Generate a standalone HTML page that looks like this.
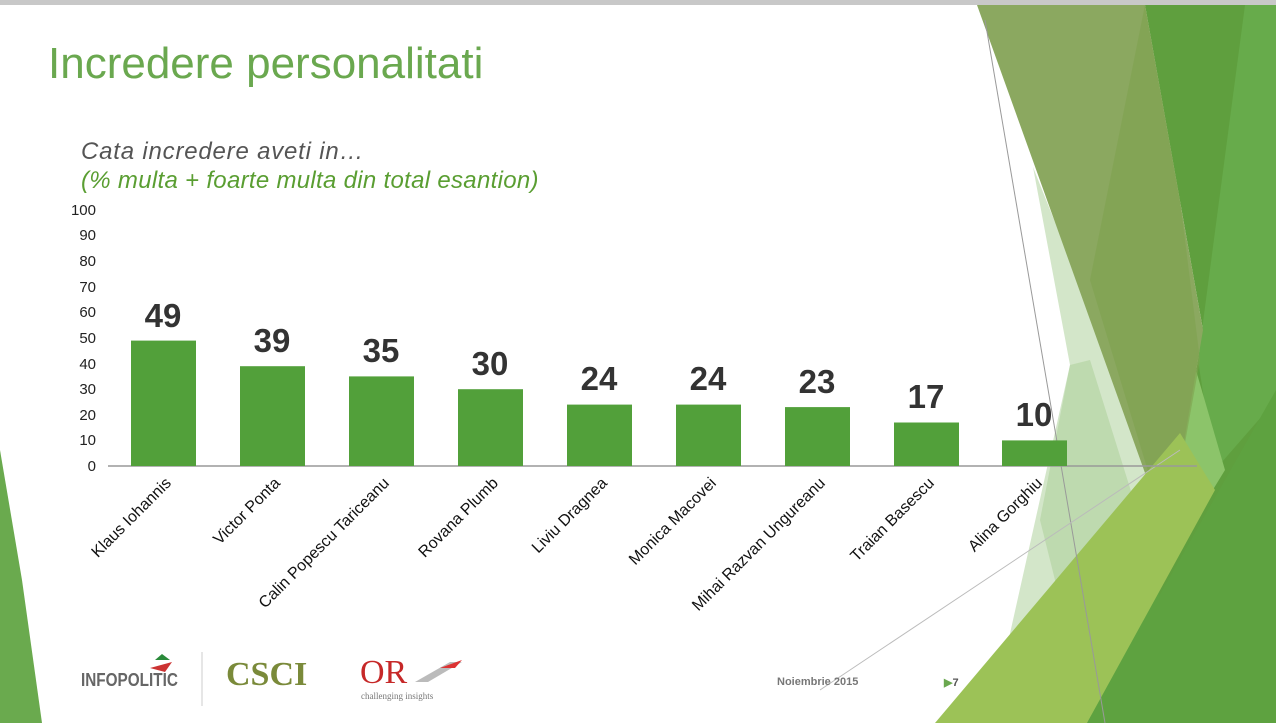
<!DOCTYPE html>
<html><head><meta charset="utf-8"><style>
body{margin:0;width:1276px;height:723px;overflow:hidden;background:#fff;font-family:"Liberation Sans",sans-serif;position:relative}
.t{position:absolute;white-space:nowrap}
</style></head><body>
<svg width="1276" height="723" style="position:absolute;left:0;top:0">
<rect x="0" y="0" width="1276" height="5" fill="#c8c8c8"/>
<polygon points="0,450 22,580 42,723 0,723" fill="#6aaa4e"/>
<polygon points="1080,723 1160,520 1210,440 1276,380 1276,723" fill="#5ea240"/>
<polygon points="1033,167 1070,365 990,723 1087,723 1168,537 1086,300" fill="#d3e6c9"/>
<polygon points="1070,365 1090,360 1140,520 1060,600 1040,520" fill="#b5d4a4" opacity="0.7"/>
<polygon points="1145,5 1276,5 1276,723 1140,723 1168,537 1203,330" fill="#5f9f3e"/>
<polygon points="1245,5 1276,5 1276,400 1215,470 1198,360" fill="#67ab4b"/>
<polygon points="1193,360 1225,470 1170,560" fill="#8cc46a"/>
<polygon points="977,5 1145,5 1203,330 1168,537" fill="#8ba860"/>
<polygon points="1090,280 1145,5 1180,200 1200,360 1168,537" fill="#7fa24e" opacity="0.6"/>
<polygon points="935,723 1180,433 1215,490 1087,723" fill="#9cc257"/>
<polygon points="1087,723 1276,390 1276,723" fill="#5ea240"/>
<line x1="985" y1="20" x2="1105" y2="723" stroke="#999" stroke-width="1"/>
<line x1="820" y1="690" x2="1180" y2="450" stroke="#bbb" stroke-width="1"/>
<line x1="108" y1="466" x2="1197" y2="466" stroke="#999" stroke-width="1.5"/>
<g fill="#52a03a">
<rect x="131" y="340.6" width="65" height="125.4"/>
<rect x="240" y="366.2" width="65" height="99.8"/>
<rect x="349" y="376.4" width="65" height="89.6"/>
<rect x="458" y="389.2" width="65" height="76.8"/>
<rect x="567" y="404.6" width="65" height="61.4"/>
<rect x="676" y="404.6" width="65" height="61.4"/>
<rect x="785" y="407.1" width="65" height="58.9"/>
<rect x="894" y="422.5" width="65" height="43.5"/>
<rect x="1002" y="440.4" width="65" height="25.6"/>
</g>
<g font-family="Liberation Sans" font-size="15" fill="#222" text-anchor="end">
<text x="96" y="471">0</text><text x="96" y="445">10</text><text x="96" y="420">20</text><text x="96" y="394">30</text><text x="96" y="369">40</text><text x="96" y="343">50</text><text x="96" y="317">60</text><text x="96" y="292">70</text><text x="96" y="266">80</text><text x="96" y="240">90</text><text x="96" y="215">100</text>
</g>
<g font-family="Liberation Sans" font-weight="bold" font-size="33" fill="#333" text-anchor="middle">
<text x="163" y="327">49</text><text x="272" y="352">39</text><text x="381" y="362">35</text><text x="490" y="375">30</text><text x="599" y="390">24</text><text x="708" y="390">24</text><text x="817" y="393">23</text><text x="926" y="408">17</text><text x="1034" y="426">10</text>
</g>
<g font-family="Liberation Sans" font-size="16" fill="#111" text-anchor="end">
<text transform="translate(172,484) rotate(-45)">Klaus Iohannis</text>
<text transform="translate(281,484) rotate(-45)">Victor Ponta</text>
<text transform="translate(390,484) rotate(-45)">Calin Popescu Tariceanu</text>
<text transform="translate(499,484) rotate(-45)">Rovana Plumb</text>
<text transform="translate(608,484) rotate(-45)">Liviu Dragnea</text>
<text transform="translate(717,484) rotate(-45)">Monica Macovei</text>
<text transform="translate(826,484) rotate(-45)">Mihai Razvan Ungureanu</text>
<text transform="translate(935,484) rotate(-45)">Traian Basescu</text>
<text transform="translate(1043,484) rotate(-45)">Alina Gorghiu</text>
</g>
<line x1="202" y1="652" x2="202" y2="706" stroke="#ccc"/>
<polygon points="150,668 172,662 165,672" fill="#c33"/>
<polygon points="155,660 162,654 170,660" fill="#2a8a3a"/>
<polygon points="415,682 450,662 462,662 428,682" fill="#bbb"/>
<polygon points="440,668 462,660 455,668" fill="#d33"/>
</svg>
<div class="t" style="left:48px;top:39px;font-size:44px;color:#6aa84f">Incredere personalitati</div>
<div class="t" style="left:81px;top:138px;font-size:24px;font-style:italic;color:#555;letter-spacing:0.8px">Cata incredere aveti in…</div>
<div class="t" style="left:81px;top:167px;font-size:24px;font-style:italic;color:#5a9e32;letter-spacing:0.3px">(% multa + foarte multa din total esantion)</div>
<div class="t" style="left:81px;top:670px;font-size:18px;font-weight:bold;color:#666;transform:scaleX(0.85);transform-origin:left">INFOPOLITIC</div>
<div class="t" style="left:226px;top:656px;font-size:34px;font-weight:bold;font-family:'Liberation Serif',serif;color:#7a8a3a">CSCI</div>
<div class="t" style="left:360px;top:654px;font-size:34px;font-family:'Liberation Serif',serif;color:#c62828">OR</div>
<div class="t" style="left:361px;top:691px;font-size:9px;font-family:'Liberation Serif',serif;color:#777">challenging insights</div>
<div class="t" style="left:777px;top:676px;font-size:11px;font-weight:bold;color:#777">Noiembrie 2015</div>
<div class="t" style="left:944px;top:676px;font-size:11px;font-weight:bold;color:#555"><span style="color:#6aa84f">▶</span>7</div>
</body></html>
